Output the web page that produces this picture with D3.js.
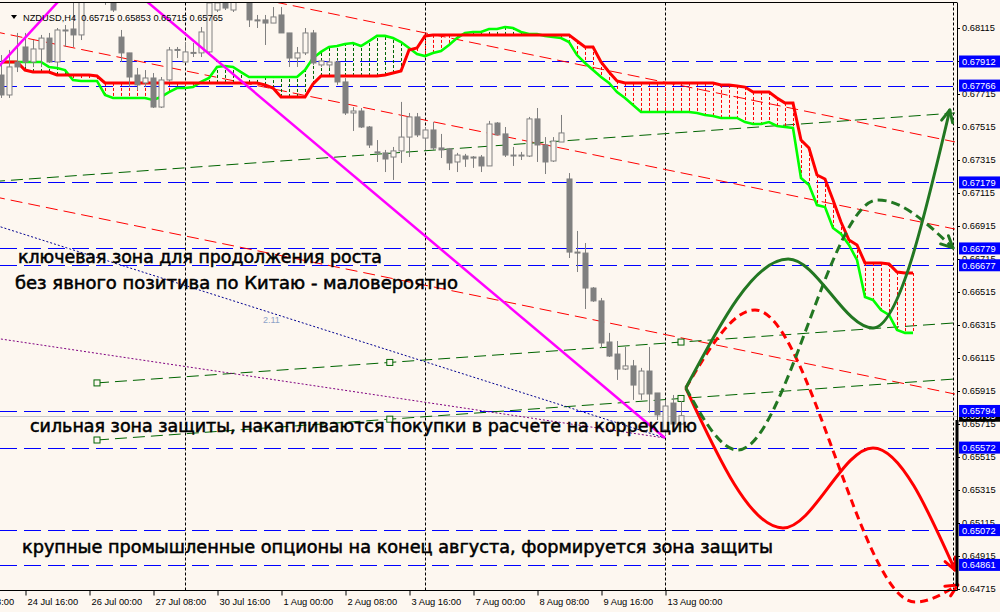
<!DOCTYPE html>
<html><head><meta charset="utf-8">
<script src="https://cdn.jsdelivr.net/npm/d3@7"></script>
<style>body{margin:0;background:#fdf7f0;} svg{display:block}</style>
</head><body>
<svg id="c" width="1000" height="612"></svg>
<script>
// ---------- DATA ----------
const headerSymbol = "NZDUSD,H4";
const headerOHLC = [0.65715, 0.65853, 0.65715, 0.65765];

// candles, bar index 0..85 (4H bars)
const open = [
0.67830,0.67709,0.67909,0.68000,0.67909,0.67988,0.68054,0.67909,0.68103,0.68109,
0.68073,0.68376,0.68467,0.68406,0.68303,0.68060,0.67964,0.67830,0.67782,0.67812,
0.67636,0.67800,0.67982,0.67909,0.67964,0.67964,0.67970,0.68224,0.68285,0.68224,
0.68297,0.68267,0.68164,0.68164,0.68145,0.68194,0.68085,0.67933,0.67964,0.68085,
0.67891,0.67891,0.67909,0.67788,0.67600,0.67612,0.67515,0.67364,0.67358,0.67333,
0.67370,0.67454,0.67576,0.67448,0.67497,0.67388,0.67382,0.67303,0.67339,0.67333,
0.67333,0.67279,0.67539,0.67473,0.67345,0.67342,0.67339,0.67564,0.67406,0.67309,
0.67424,0.67200,0.66757,0.66751,0.66539,0.66461,0.66212,0.66139,0.66048,0.66067,
0.65897,0.66036,0.65903,0.65679,0.65842,0.65715];
const high = [
0.67951,0.67982,0.68085,0.68085,0.68042,0.68073,0.68085,0.68115,0.68133,0.68285,
0.68376,0.68527,0.68557,0.68436,0.68330,0.68103,0.67964,0.67873,0.67860,0.67842,
0.67818,0.68000,0.68000,0.68024,0.68024,0.68121,0.68285,0.68315,0.68303,0.68303,
0.68406,0.68297,0.68194,0.68194,0.68242,0.68242,0.68085,0.68000,0.68115,0.68103,
0.67921,0.67933,0.67921,0.67812,0.67636,0.67630,0.67521,0.67436,0.67376,0.67394,
0.67667,0.67600,0.67600,0.67509,0.67545,0.67473,0.67388,0.67358,0.67352,0.67339,
0.67345,0.67552,0.67545,0.67515,0.67394,0.67364,0.67576,0.67630,0.67454,0.67454,
0.67588,0.67236,0.66885,0.66812,0.66545,0.66479,0.66267,0.66218,0.66182,0.66103,
0.66055,0.66182,0.65903,0.65861,0.65891,0.65853];
const low = [
0.67691,0.67691,0.67848,0.67879,0.67879,0.67879,0.67903,0.67879,0.68000,0.68000,
0.68042,0.68345,0.68345,0.68255,0.68212,0.67909,0.67757,0.67739,0.67757,0.67630,
0.67630,0.67788,0.67933,0.67903,0.67939,0.67939,0.67964,0.68212,0.68224,0.68212,
0.68297,0.68121,0.68115,0.68012,0.68145,0.68085,0.67879,0.67879,0.67951,0.67891,
0.67879,0.67873,0.67770,0.67588,0.67491,0.67509,0.67388,0.67303,0.67242,0.67194,
0.67297,0.67333,0.67454,0.67376,0.67376,0.67327,0.67254,0.67242,0.67273,0.67267,
0.67242,0.67279,0.67467,0.67333,0.67279,0.67315,0.67333,0.67303,0.67230,0.67303,
0.67424,0.66721,0.66636,0.66412,0.66455,0.66176,0.66121,0.65982,0.66042,0.65861,
0.65861,0.65782,0.65739,0.65648,0.65700,0.65715];
const close = [
0.67709,0.67879,0.67879,0.67909,0.67988,0.68054,0.67909,0.68103,0.68100,0.68073,
0.68345,0.68467,0.68406,0.68297,0.68224,0.67964,0.67818,0.67770,0.67812,0.67636,
0.67800,0.67982,0.67985,0.67970,0.67967,0.68091,0.68267,0.68267,0.68236,0.68285,
0.68376,0.68164,0.68161,0.68145,0.68182,0.68085,0.67933,0.67964,0.68085,0.67903,
0.67915,0.67909,0.67788,0.67600,0.67612,0.67515,0.67406,0.67361,0.67321,0.67370,
0.67454,0.67576,0.67467,0.67497,0.67388,0.67376,0.67297,0.67345,0.67321,0.67330,
0.67279,0.67533,0.67467,0.67345,0.67342,0.67345,0.67564,0.67406,0.67303,0.67430,
0.67479,0.66757,0.66751,0.66539,0.66461,0.66206,0.66127,0.66048,0.66067,0.65951,
0.66036,0.65897,0.65770,0.65824,0.65715,0.65765];

// cloud boundaries, bar index 0..114
const spanRed = [
0.67909,0.67909,0.67909,0.67860,0.67848,0.67848,0.67848,0.67830,0.67830,0.67830,
0.67830,0.67830,0.67824,0.67782,0.67782,0.67782,0.67782,0.67782,0.67782,0.67782,
0.67782,0.67782,0.67782,0.67782,0.67782,0.67782,0.67782,0.67782,0.67782,0.67782,
0.67782,0.67782,0.67782,0.67770,0.67751,0.67697,0.67697,0.67697,0.67697,0.67776,
0.67824,0.67824,0.67824,0.67824,0.67824,0.67824,0.67824,0.67824,0.67830,0.67842,
0.67854,0.67982,0.67994,0.68067,0.68073,0.68073,0.68073,0.68073,0.68073,0.68073,
0.68073,0.68073,0.68073,0.68073,0.68073,0.68073,0.68073,0.68073,0.68073,0.68073,
0.68073,0.68073,0.68036,0.68000,0.68000,0.67909,0.67848,0.67794,0.67782,0.67782,
0.67782,0.67782,0.67782,0.67782,0.67782,0.67782,0.67782,0.67782,0.67782,0.67782,
0.67770,0.67770,0.67764,0.67757,0.67727,0.67727,0.67727,0.67691,0.67660,0.67660,
0.67436,0.67388,0.67224,0.67200,0.67073,0.66939,0.66830,0.66800,0.66691,0.66691,
0.66691,0.66685,0.66636,0.66630,0.66630];
const spanGreen = [
0.67909,0.67909,0.67909,0.67909,0.67909,0.67909,0.67879,0.67873,0.67860,0.67800,
0.67794,0.67794,0.67794,0.67709,0.67691,0.67691,0.67691,0.67691,0.67691,0.67679,
0.67697,0.67727,0.67751,0.67751,0.67757,0.67788,0.67812,0.67879,0.67885,0.67879,
0.67848,0.67818,0.67818,0.67818,0.67818,0.67818,0.67818,0.67818,0.67860,0.67933,
0.67970,0.68000,0.68006,0.68018,0.68024,0.68006,0.68036,0.68067,0.68067,0.68054,
0.68030,0.67994,0.67957,0.67945,0.67964,0.67976,0.68012,0.68054,0.68085,0.68091,
0.68091,0.68109,0.68109,0.68121,0.68115,0.68091,0.68079,0.68079,0.68067,0.68060,
0.68054,0.68030,0.67951,0.67903,0.67860,0.67818,0.67782,0.67727,0.67691,0.67648,
0.67606,0.67606,0.67606,0.67606,0.67606,0.67606,0.67606,0.67600,0.67588,0.67582,
0.67570,0.67570,0.67570,0.67545,0.67533,0.67533,0.67545,0.67521,0.67515,0.67509,
0.67206,0.67164,0.67042,0.67030,0.66903,0.66867,0.66800,0.66709,0.66485,0.66467,
0.66406,0.66376,0.66285,0.66267,0.66267];

// axes
const priceTicks = [0.64715,0.64915,0.65115,0.65315,0.65515,0.65715,0.65915,0.66115,0.66315,
  0.66515,0.66715,0.66915,0.67115,0.67315,0.67515,0.67715,0.67915,0.68115];
const timeTickBars = [-5,3,11,19,27,35,43,51,59,67,75,83];
const timeTickLabels = ["23 Jul 08:00","24 Jul 16:00","26 Jul 00:00","27 Jul 08:00","30 Jul 16:00",
  "1 Aug 00:00","2 Aug 08:00","3 Aug 16:00","7 Aug 00:00","8 Aug 08:00","9 Aug 16:00","13 Aug 00:00"];
const separatorBars = [23, 53, 83, 119];

// horizontal levels
const levels = [0.67912,0.67766,0.67179,0.66779,0.66677,0.65794,0.65572,0.65072,0.64861];

// trend lines: [bar, price] anchors
const redTrend1 = [[0,0.68085],[119,0.66899]];
const redTrend2 = [[33,0.68285],[119,0.67427]];
const redTrend3 = [[0,0.67084],[119,0.65899]];
const greenTrend1 = [[0,0.67188],[119,0.67599]];
const greenTrend2 = [[12,0.65964],[119,0.66327]];
const greenTrend3 = [[12,0.65618],[119,0.65987]];
const channelMarks = [12, 48.6, 85];
const magenta1 = [[0,0.67897],[7,0.68267]];
const magenta2 = [[18,0.68285],[83,0.65630]];
const fanBlue = [[0,0.66909],[83,0.65630]];
const fanPurple = [[0,0.66230],[83,0.65630]];

// forecast scenarios [bar, price]
const fcGreenSolid = [[85.6,0.65933],[98.4,0.66715],[109,0.66297],[118.6,0.67618]];
const fcGreenDash  = [[85.6,0.65933],[92.1,0.65557],[109.6,0.67073],[119,0.66782]];
const fcRedSolid   = [[85.6,0.65933],[97.75,0.65085],[109,0.65570],[119.25,0.64830]];
const fcRedDash    = [[85.6,0.65933],[94.25,0.66406],[114.25,0.64636],[119.6,0.64739]];

const notes = [
  "ключевая зона для продолжения роста",
  "без явного позитива по Китаю - маловероятно",
  "сильная зона защиты, накапливаются покупки в расчете на коррекцию",
  "крупные промышленные опционы на конец августа, формируется зона защиты"
];

// ---------- DRAW ----------
const W = 1000, H = 612;
const BG = "#fdf7f0";
const svg = d3.select("#c");
svg.append("rect").attr("width", W).attr("height", H).attr("fill", BG);

const xS = d3.scaleLinear().domain([0, 119.25]).range([1, 955]);
const yS = d3.scaleLinear().domain([0.64715, 0.68115]).range([589, 28]);

const plotTop = 2.5, plotBottom = 590.5, plotRight = 957;
svg.append("defs").append("clipPath").attr("id", "clip")
  .append("rect").attr("x", 0).attr("y", plotTop).attr("width", plotRight).attr("height", plotBottom - plotTop);
const g = svg.append("g").attr("clip-path", "url(#clip)");

// period separators
g.selectAll("line.sep").data(separatorBars).join("line")
  .attr("x1", d => Math.round(xS(d)) + 0.5).attr("x2", d => Math.round(xS(d)) + 0.5)
  .attr("y1", plotTop).attr("y2", plotBottom)
  .attr("stroke", "#000").attr("stroke-width", 1).attr("stroke-dasharray", "3,2");

// horizontal levels
g.selectAll("line.lvl").data(levels).join("line")
  .attr("x1", 0).attr("x2", plotRight)
  .attr("y1", d => Math.round(yS(d)) + 0.5).attr("y2", d => Math.round(yS(d)) + 0.5)
  .attr("stroke", "#0000ff").attr("stroke-width", 1).attr("stroke-dasharray", "17,7");

// bid line
g.append("line").attr("x1", 0).attr("x2", plotRight)
  .attr("y1", Math.round(yS(headerOHLC[3])) + 0.5).attr("y2", Math.round(yS(headerOHLC[3])) + 0.5)
  .attr("stroke", "#c8c8c8").attr("stroke-width", 1);

function seg(anchors, a, b) {
  const [[k1, p1], [k2, p2]] = anchors;
  const f = k => p1 + (p2 - p1) * (k - k1) / (k2 - k1);
  return [[xS(a), yS(f(a))], [xS(b), yS(f(b))]];
}
function drawSeg(pts, color, width, dash) {
  g.append("line").attr("x1", pts[0][0]).attr("y1", pts[0][1]).attr("x2", pts[1][0]).attr("y2", pts[1][1])
    .attr("stroke", color).attr("stroke-width", width).attr("stroke-dasharray", dash || null);
}
drawSeg(seg(redTrend1, -1, 119.25), "#ff0000", 1, "12,6");
drawSeg(seg(redTrend2, -1, 119.25), "#ff0000", 1, "12,6");
drawSeg(seg(redTrend3, -1, 119.25), "#ff0000", 1, "12,6");
drawSeg(seg(greenTrend1, -1, 119.25), "#006400", 1, "12,6");
drawSeg(seg(greenTrend2, 12, 119.25), "#006400", 1, "12,6");
drawSeg(seg(greenTrend3, 12, 119.25), "#006400", 1, "12,6");
[greenTrend2, greenTrend3].forEach(tl => {
  const [[k1, p1], [k2, p2]] = tl;
  channelMarks.forEach(k => {
    const p = p1 + (p2 - p1) * (k - k1) / (k2 - k1);
    g.append("rect").attr("x", xS(k) - 3).attr("y", yS(p) - 3).attr("width", 6).attr("height", 6)
      .attr("fill", BG).attr("stroke", "#006400").attr("stroke-width", 1);
  });
});
drawSeg(seg(fanBlue, -1, 83), "#000090", 1, "2,2");
drawSeg(seg(fanPurple, -1, 83), "#800080", 1, "2,2");
g.append("text").attr("x", 263).attr("y", 323).text("2.11")
  .attr("font-family", "Liberation Sans").attr("font-size", 9).attr("fill", "#8fa3c8");

// cloud hatching
const kIdx = d3.range(spanRed.length);
g.selectAll("line.hatch").data(kIdx.filter(k => Math.abs(yS(spanRed[k]) - yS(spanGreen[k])) > 1)).join("line")
  .attr("x1", k => Math.round(xS(k)) + 0.5).attr("x2", k => Math.round(xS(k)) + 0.5)
  .attr("y1", k => yS(spanRed[k])).attr("y2", k => yS(spanGreen[k]))
  .attr("stroke", k => spanGreen[k] > spanRed[k] ? "#006400" : "#ff0000")
  .attr("stroke-width", 1).attr("stroke-dasharray", "3,2");
const cloudLine = arr => d3.line().x((d, i) => xS(i)).y(d => yS(d))(arr);
g.append("path").attr("d", cloudLine(spanGreen)).attr("fill", "none").attr("stroke", "#00ff00").attr("stroke-width", 2.6);
g.append("path").attr("d", cloudLine(spanRed)).attr("fill", "none").attr("stroke", "#ff0000").attr("stroke-width", 3);

// candles
const candles = d3.range(open.length);
const cg = g.append("g");
cg.selectAll("line.wick").data(candles).join("line")
  .attr("x1", k => Math.round(xS(k)) + 0.5).attr("x2", k => Math.round(xS(k)) + 0.5)
  .attr("y1", k => yS(high[k])).attr("y2", k => yS(low[k]))
  .attr("stroke", "#808080").attr("stroke-width", 1);
cg.selectAll("rect.body").data(candles).join("rect")
  .attr("x", k => Math.round(xS(k)) - 2).attr("width", 5)
  .attr("y", k => Math.min(yS(open[k]), yS(close[k])))
  .attr("height", k => Math.max(1, Math.abs(yS(open[k]) - yS(close[k]))))
  .attr("fill", k => close[k] >= open[k] ? BG : "#808080")
  .attr("stroke", "#808080").attr("stroke-width", 1);

// magenta lines
drawSeg(seg(magenta1, -2, 10), "#ff00ff", 2.5);
drawSeg(seg(magenta2, 17, 83), "#ff00ff", 2.5);

// forecast curves (not clipped)
const fg = svg.append("g");
const curve = d3.line().x(d => xS(d[0])).y(d => yS(d[1])).curve(d3.curveMonotoneX);
function forecast(data, color, dash) {
  const p = fg.append("path").attr("d", curve(data)).attr("fill", "none")
    .attr("stroke", color).attr("stroke-width", 3).attr("stroke-dasharray", dash || null);
  const node = p.node(), L = node.getTotalLength();
  const e = node.getPointAtLength(L), b = node.getPointAtLength(L - 6);
  const ang = Math.atan2(e.y - b.y, e.x - b.x);
  [0.45, -0.45].forEach(a => {
    fg.append("line").attr("x1", e.x).attr("y1", e.y)
      .attr("x2", e.x - 13 * Math.cos(ang + a)).attr("y2", e.y - 13 * Math.sin(ang + a))
      .attr("stroke", color).attr("stroke-width", 3).attr("stroke-linecap", "round");
  });
}
forecast(fcRedDash, "#ff0000", "8,5");
forecast(fcRedSolid, "#ff0000");
forecast(fcGreenDash, "#227722", "9,5");
forecast(fcGreenSolid, "#227722");

// notes
const noteX = [18, 15, 30, 22], noteY = [263, 289, 432, 553], noteLen = [364, 443, 667, 751];
notes.forEach((t, i) => {
  svg.append("text").attr("x", noteX[i]).attr("y", noteY[i]).text(t)
    .attr("font-family", "DejaVu Sans").attr("font-size", 18).attr("fill", "#000")
    .attr("stroke", "#000").attr("stroke-width", 0.55)
    .attr("textLength", noteLen[i]).attr("lengthAdjust", "spacingAndGlyphs");
});

// frame
svg.append("line").attr("x1", 0).attr("x2", plotRight).attr("y1", plotTop).attr("y2", plotTop).attr("stroke", "#000");
svg.append("line").attr("x1", 0).attr("x2", plotRight + 0.5).attr("y1", plotBottom).attr("y2", plotBottom).attr("stroke", "#000");
svg.append("line").attr("x1", plotRight + 0.5).attr("x2", plotRight + 0.5).attr("y1", plotTop).attr("y2", plotBottom).attr("stroke", "#000");
svg.append("line").attr("x1", plotRight).attr("x2", plotRight).attr("y1", 420).attr("y2", 586).attr("stroke", "#000").attr("stroke-width", 3);

// price axis
const yAxis = d3.axisRight(yS).tickValues(priceTicks).tickSize(3).tickPadding(2).tickFormat(d3.format(".5f"));
svg.append("g").attr("transform", `translate(${plotRight},0)`).call(yAxis)
  .attr("font-family", "Liberation Sans").attr("font-size", 9.3)
  .call(a => a.select(".domain").remove())
  .call(a => a.selectAll("text").attr("fill", "#000"));

// time axis
const xAxis = d3.axisBottom(xS).tickValues(timeTickBars).tickFormat((d, i) => timeTickLabels[i]).tickSize(5).tickPadding(3);
svg.append("g").attr("transform", `translate(0,${plotBottom})`).call(xAxis)
  .attr("font-family", "Liberation Sans").attr("font-size", 9.3)
  .call(a => a.select(".domain").remove())
  .call(a => a.selectAll(".tick line").attr("transform", "translate(0.5,0)"))
  .call(a => a.selectAll("text").attr("text-anchor", "start").attr("x", 2).attr("fill", "#000"));

// price labels
function priceLabel(v, fill) {
  const y = yS(v);
  svg.append("rect").attr("x", 959).attr("y", y - 6).attr("width", 41).attr("height", 12).attr("fill", fill);
  svg.append("text").attr("x", 962).attr("y", y + 3.5).text(d3.format(".5f")(v))
    .attr("font-family", "Liberation Sans").attr("font-size", 9.3).attr("fill", "#fff");
}
priceLabel(headerOHLC[3], "#000");
levels.forEach(v => priceLabel(v, "#0000ff"));

// header
svg.append("path").attr("d", "M11,15 L17,15 L14,19 Z").attr("fill", "#000");
svg.append("text").attr("x", 23).attr("y", 21).style("white-space", "pre")
  .text(headerSymbol + "  " + headerOHLC.map(d3.format(".5f")).join(" "))
  .attr("font-family", "Liberation Sans").attr("font-size", 9.3).attr("fill", "#000")
  .attr("textLength", 200).attr("lengthAdjust", "spacingAndGlyphs");
</script>
</body></html>
